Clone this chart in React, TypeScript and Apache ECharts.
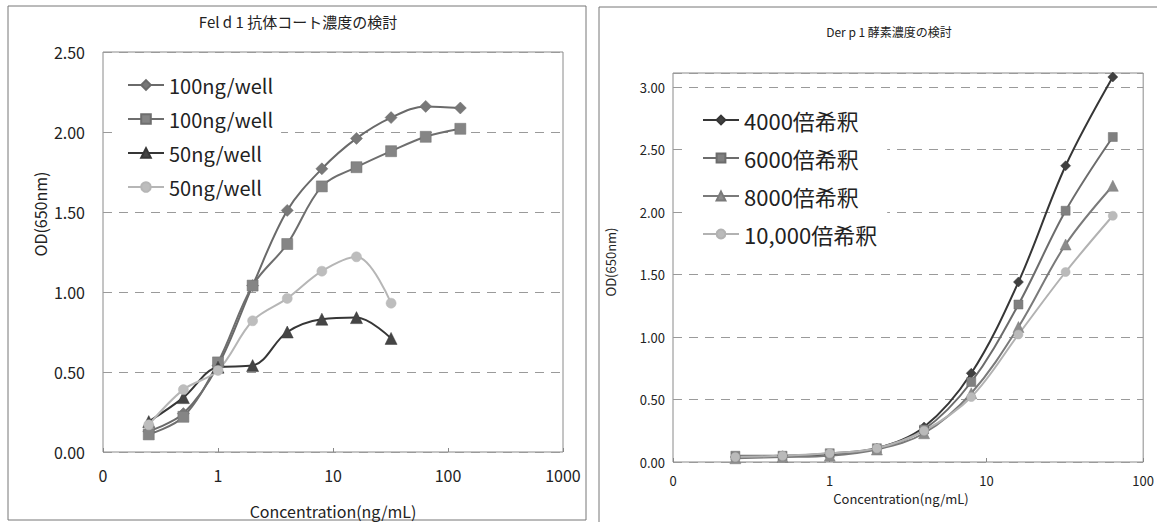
import React, { useEffect, useRef } from "react";
import * as echarts from "echarts";

const FONT = "'Noto Sans CJK JP', 'Noto Sans', sans-serif";

const leftTitle = "Fel d 1 抗体コート濃度の検討";
const rightTitle = "Der p 1 酵素濃度の検討";
const yAxisName = "OD(650nm)";
const xAxisName = "Concentration(ng/mL)";

// Left chart: concentrations (ng/mL) and OD values
const leftConc = [0.25, 0.5, 1, 2, 4, 8, 16, 32, 64, 128];
const leftLabels = ["100ng/well", "100ng/well", "50ng/well", "50ng/well"];
const left100a = [0.13, 0.24, 0.54, 1.04, 1.51, 1.77, 1.96, 2.09, 2.16, 2.15];
const left100b = [0.11, 0.22, 0.56, 1.04, 1.3, 1.66, 1.78, 1.88, 1.97, 2.02];
const left50a = [0.19, 0.34, 0.53, 0.54, 0.75, 0.83, 0.84, 0.71];
const left50b = [0.17, 0.39, 0.51, 0.82, 0.96, 1.13, 1.22, 0.93];

// Right chart
const rightConc = [0.25, 0.5, 1, 2, 4, 8, 16, 32, 64];
const rightLabels = ["4000倍希釈", "6000倍希釈", "8000倍希釈", "10,000倍希釈"];
const r4000 = [0.04, 0.05, 0.06, 0.11, 0.28, 0.71, 1.44, 2.37, 3.08];
const r6000 = [0.05, 0.05, 0.07, 0.11, 0.26, 0.64, 1.26, 2.01, 2.6];
const r8000 = [0.03, 0.04, 0.05, 0.1, 0.23, 0.55, 1.08, 1.74, 2.21];
const r10000 = [0.04, 0.05, 0.07, 0.11, 0.25, 0.52, 1.02, 1.52, 1.97];

const leftValues = [left100a, left100b, left50a, left50b];
const rightValues = [r4000, r6000, r8000, r10000];

const leftStyles = [
  { symbol: "diamond", size: 12, line: "#6a6a6a", fill: "#787878" },
  { symbol: "rect", size: 11, line: "#6e6e6e", fill: "#858585" },
  { symbol: "triangle", size: 12, line: "#363636", fill: "#454545" },
  { symbol: "circle", size: 10, line: "#b6b6b6", fill: "#bdbdbd" },
];
const rightStyles = [
  { symbol: "diamond", size: 10, line: "#363636", fill: "#404040" },
  { symbol: "rect", size: 9, line: "#6c6c6c", fill: "#808080" },
  { symbol: "triangle", size: 11, line: "#7a7a7a", fill: "#8c8c8c" },
  { symbol: "circle", size: 9, line: "#b2b2b2", fill: "#bababa" },
];

const leftIds = ["L0", "L1", "L2", "L3"];
const rightIds = ["R0", "R1", "R2", "R3"];

function makeSeries(ids: string[], conc: number[], values: number[][], styles: any[], axis: number) {
  return ids.map((id, k) => ({
    name: id,
    type: "line",
    xAxisIndex: axis,
    yAxisIndex: axis,
    smooth: 0.35,
    symbol: styles[k].symbol,
    symbolSize: styles[k].size,
    lineStyle: { width: 2, color: styles[k].line },
    itemStyle: { color: styles[k].fill, borderColor: styles[k].line, borderWidth: 0.5 },
    data: values[k].map((v, i) => [conc[i], v]),
  }));
}

export default function App() {
  const ref = useRef<HTMLDivElement>(null);
  useEffect(() => {
    if (!ref.current) return;
    const chart = echarts.init(ref.current, undefined, { renderer: "svg" });
    const labelMap: Record<string, string> = {};
    leftIds.forEach((id, i) => (labelMap[id] = leftLabels[i]));
    rightIds.forEach((id, i) => (labelMap[id] = rightLabels[i]));

    const txt = (text: string, x: number, y: number, size: number, rot = 0) => ({
      type: "text",
      x,
      y,
      rotation: rot,
      silent: true,
      style: {
        text,
        fill: "#222",
        font: `${size}px ${FONT}`,
        textAlign: "center",
        textVerticalAlign: "middle",
        align: "center",
        verticalAlign: "middle",
      },
    });

    const dashed = { show: true, lineStyle: { color: "#9a9a9a", type: [9, 7], width: 1 } };

    chart.setOption({
      animation: false,
      backgroundColor: "#fff",
      grid: [
        { left: 103, top: 52, width: 460, height: 400, show: true, borderColor: "#8a8a8a", borderWidth: 1 },
        { left: 673, top: 73, width: 474, height: 389, show: true, borderColor: "#8a8a8a", borderWidth: 1 },
      ],
      xAxis: [
        {
          type: "log",
          logBase: 10,
          min: 0.1,
          max: 1000,
          gridIndex: 0,
          axisLine: { show: false },
          axisTick: { show: true, inside: true, length: 4, lineStyle: { color: "#888" } },
          axisLabel: {
            formatter: (v: number) => (v < 1 ? "0" : String(Math.round(v))),
            fontSize: 16,
            fontFamily: FONT,
            color: "#222",
            margin: 15,
          },
          splitLine: { show: false },
        },
        {
          type: "log",
          logBase: 10,
          min: 0.1,
          max: 100,
          gridIndex: 1,
          axisLine: { show: false },
          axisTick: { show: true, inside: true, length: 4, lineStyle: { color: "#888" } },
          axisLabel: {
            formatter: (v: number) => (v < 1 ? "0" : String(Math.round(v))),
            fontSize: 13,
            fontFamily: FONT,
            color: "#222",
            margin: 12,
          },
          splitLine: { show: false },
        },
      ],
      yAxis: [
        {
          type: "value",
          min: 0,
          max: 2.5,
          interval: 0.5,
          gridIndex: 0,
          axisLine: { show: false },
          axisTick: { show: false },
          axisLabel: {
            formatter: (v: number) => v.toFixed(2),
            fontSize: 16,
            fontFamily: FONT,
            color: "#222",
            margin: 18,
          },
          splitLine: dashed,
        },
        {
          type: "value",
          min: 0,
          max: 3.112,
          interval: 0.5,
          gridIndex: 1,
          axisLine: { show: false },
          axisTick: { show: false },
          axisLabel: {
            formatter: (v: number) => (Math.abs(v * 2 - Math.round(v * 2)) < 1e-6 ? v.toFixed(2) : ""),
            showMaxLabel: false,
            fontSize: 13,
            fontFamily: FONT,
            color: "#222",
            margin: 8,
          },
          splitLine: dashed,
        },
      ],
      legend: [
        {
          orient: "vertical",
          left: 115,
          top: 67,
          padding: [8, 8, 8, 12],
          backgroundColor: "#fff",
          itemWidth: 36,
          itemHeight: 12,
          itemGap: 14,
          selectedMode: false,
          data: leftIds,
          formatter: (n: string) => labelMap[n],
          textStyle: { fontSize: 20, lineHeight: 20, color: "#222", fontFamily: FONT },
        },
        {
          orient: "vertical",
          left: 686,
          top: 100,
          padding: [8, 10, 8, 16],
          backgroundColor: "#fff",
          itemWidth: 36,
          itemHeight: 11,
          itemGap: 14,
          selectedMode: false,
          data: rightIds,
          formatter: (n: string) => labelMap[n],
          textStyle: { fontSize: 22, lineHeight: 24, color: "#222", fontFamily: FONT },
        },
      ],
      series: [
        ...makeSeries(leftIds, leftConc, leftValues, leftStyles, 0),
        ...makeSeries(rightIds, rightConc, rightValues, rightStyles, 1),
      ],
      graphic: [
        { type: "rect", shape: { x: 8, y: 6, width: 578, height: 514 }, style: { fill: "none", stroke: "#777", lineWidth: 1 }, silent: true },
        { type: "rect", shape: { x: 599, y: 7, width: 620, height: 540 }, style: { fill: "none", stroke: "#777", lineWidth: 1 }, silent: true },
        txt(leftTitle, 298, 21, 15),
        txt(rightTitle, 889, 31, 12),
        txt(yAxisName, 40, 214, 16, Math.PI / 2),
        txt(yAxisName, 610, 262, 13, Math.PI / 2),
        txt(xAxisName, 333, 511, 16),
        txt(xAxisName, 901, 498, 13),
      ],
    });
    return () => chart.dispose();
  }, []);
  return <div ref={ref} style={{ position: "absolute", left: 0, top: 0, width: 1157, height: 522 }} />;
}
